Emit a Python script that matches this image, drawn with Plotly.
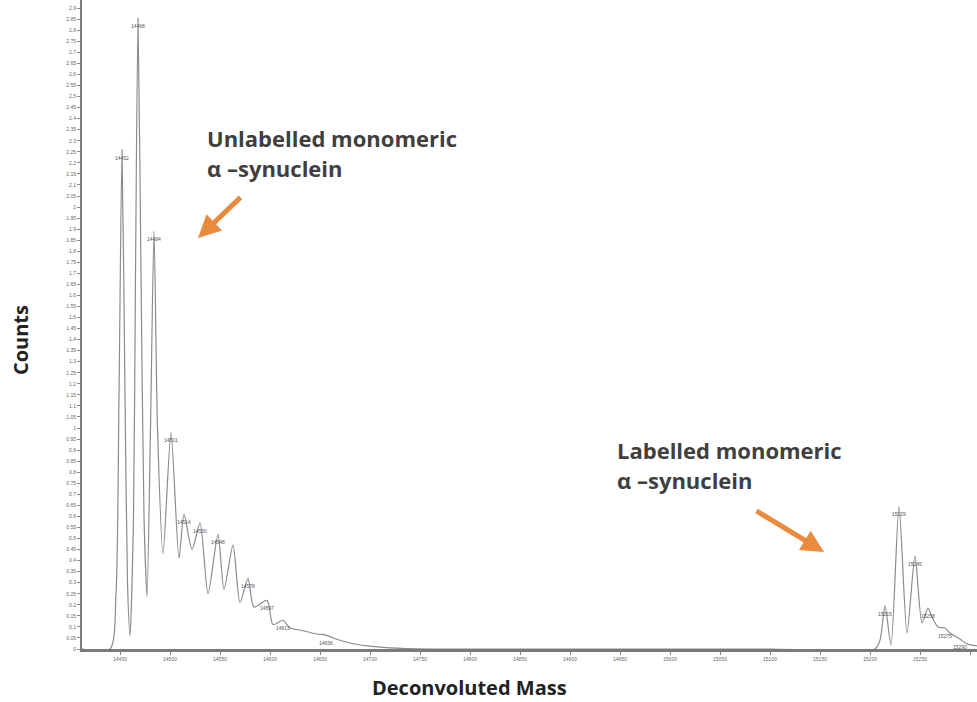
import plotly.graph_objects as go

# Labelled peak apexes (deconvoluted mass, counts)
peak_mass = [14452, 14468, 14484, 14501, 14514, 14530, 14548, 14578, 14597, 14613, 14656,
             15215, 15229, 15245, 15258, 15275, 15290]
peak_counts = [2.26, 2.855, 1.89, 0.98, 0.61, 0.57, 0.52, 0.32, 0.22, 0.13, 0.063,
               0.195, 0.647, 0.42, 0.185, 0.095, 0.045]

# Valleys, flanks and baseline points of the trace between the apexes
trace_mass = [14412, 14440, 14446, 14449, 14455, 14457.5, 14460, 14463.5, 14465.5, 14471, 14474,
              14477, 14480.5, 14487.5, 14493, 14509, 14522, 14538, 14554, 14563, 14570,
              14584, 14603, 14620, 14630, 14647, 14663, 14680, 14697, 14720, 14760,
              15100, 15205, 15210, 15221, 15237, 15252, 15262, 15268, 15280, 15297, 15307]
trace_counts = [0.0, 0.0, 0.25, 1.15, 1.15, 0.3, 0.06, 0.6, 1.7, 1.7, 0.6,
                0.24, 1.0, 1.0, 0.43, 0.41, 0.45, 0.25, 0.27, 0.47, 0.21,
                0.19, 0.11, 0.095, 0.086, 0.068, 0.05, 0.027, 0.014, 0.005, 0.0,
                0.0, 0.0, 0.04, 0.018, 0.072, 0.118, 0.145, 0.10, 0.072, 0.023, 0.014]

x_tick_values = [14450, 14500, 14550, 14600, 14650, 14700, 14750, 14800, 14850, 14900,
                 14950, 15000, 15050, 15100, 15150, 15200, 15250, 15300]
x_tick_labels = ["14450", "14500", "14550", "14600", "14650", "14700", "14750", "14800", "14850",
                 "14900", "14950", "15000", "15050", "15100", "15150", "15200", "15250", "15300"]

points = sorted(zip(trace_mass + peak_mass, trace_counts + peak_counts))
xs = [p[0] for p in points]
ys = [p[1] for p in points]

fig = go.Figure()
fig.add_trace(go.Scatter(
    x=xs, y=ys, mode="lines",
    line=dict(color="#8c8c8c", width=1.2, shape="spline", smoothing=0.7),
    hoverinfo="skip", showlegend=False,
))

annotations = []
# Mass labels on each apex
for m, c in zip(peak_mass, peak_counts):
    annotations.append(dict(
        x=m, y=c, xref="x", yref="y", text=str(m), showarrow=False,
        font=dict(family="Arial", size=5, color="#555555"),
        yshift=-8, xanchor="center", yanchor="middle",
    ))

text_font = dict(family="Open Sans", size=22, color="#3f3f3f")
for lx, ly, txt in [(0.137, 0.787, "<b>Unlabelled monomeric</b>"),
                    (0.137, 0.741, "<b>α –synuclein</b>"),
                    (0.5955, 0.3066, "<b>Labelled monomeric</b>"),
                    (0.5955, 0.2604, "<b>α –synuclein</b>")]:
    annotations.append(dict(x=lx, y=ly, xref="paper", yref="paper", text=txt,
                            showarrow=False, font=text_font,
                            xanchor="left", yanchor="middle"))

# Orange pointer arrows
for ax_x, ax_y, tx, ty in [(44, -42, 14528, 1.86), (-69, -42, 15154, 0.439)]:
    annotations.append(dict(x=tx, y=ty, xref="x", yref="y", ax=ax_x, ay=ax_y,
                            axref="pixel", ayref="pixel", text="", showarrow=True,
                            arrowhead=2, arrowsize=0.9, arrowwidth=5,
                            arrowcolor="#e98a3c"))

# Axis titles
title_font = dict(family="Open Sans", size=20, color="#222222")
annotations.append(dict(x=-0.0693, y=0.476, xref="paper", yref="paper",
                        text="<b>Counts</b>", showarrow=False, textangle=-90,
                        font=title_font, xanchor="center", yanchor="middle"))
annotations.append(dict(x=0.4335, y=-0.0586, xref="paper", yref="paper",
                        text="<b>Deconvoluted Mass</b>", showarrow=False,
                        font=title_font, xanchor="center", yanchor="middle", borderpad=0))

fig.update_layout(
    width=977, height=702,
    margin=dict(l=82, r=0, t=0, b=53),
    paper_bgcolor="white", plot_bgcolor="white",
    annotations=annotations,
    xaxis=dict(range=[14412, 15307], tickmode="array", tickvals=x_tick_values,
               ticktext=x_tick_labels, ticks="outside", ticklen=3, tickcolor="#888888",
               tickfont=dict(family="Arial", size=5, color="#666666"),
               showline=True, linecolor="#7a7a7a", linewidth=2.5,
               showgrid=False, zeroline=False, fixedrange=True),
    yaxis=dict(range=[0, 2.937], tick0=0, dtick=0.05, ticks="outside", ticklen=3,
               tickcolor="#888888", tickfont=dict(family="Arial", size=5, color="#666666"),
               showline=True, linecolor="#7a7a7a", linewidth=2,
               showgrid=False, zeroline=False, fixedrange=True),
)

fig.write_html("out.html", config={"displayModeBar": False})
